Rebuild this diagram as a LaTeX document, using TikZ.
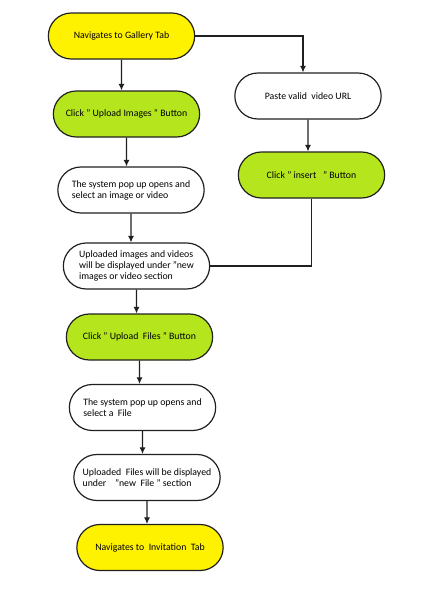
\documentclass[tikz,border=0pt]{standalone}
\usepackage{fontspec}
\setmainfont{Carlito}
\usetikzlibrary{shapes.misc,arrows.meta}
\definecolor{tabyellow}{HTML}{FFF200}
\definecolor{btngreen}{HTML}{B5E61D}
\definecolor{lineclr}{HTML}{202020}

\begin{document}
\begin{tikzpicture}
[x=1pt,y=-1pt,
every node/.style={rounded rectangle,draw=lineclr,line width=1.2pt,minimum width=153pt,minimum height=46pt,font=\fontsize{9.8}{11}\selectfont,align=left,text=black},
tab/.style={fill=tabyellow},
btn/.style={fill=btngreen},
flow/.style={draw=lineclr,line width=1.1pt,-{Latex[length=6.5pt,width=6pt]}}]
\useasboundingbox (0,0) rectangle (431,600);
\node[tab] (n1) at (121.5,36) {Navigates to Gallery Tab};
\node[btn] (n2) at (126.5,114) {Click " Upload Images " Button};
\node (n3) at (131,190) {The system pop up opens and\\select an image or video};
\node (n4) at (136.5,266) {Uploaded images and videos\\will be displayed under "new\\images or video section};
\node[btn] (n5) at (139.5,337) {Click " Upload~ Files " Button};
\node (n6) at (142.5,407.5) {The system pop up opens and\\select a~ File};
\node (n7) at (147,477.5) {Uploaded~ Files will be displayed\\under~~~ "new~ File " section};
\node[tab] (n8) at (150,547.5) {Navigates to~ Invitation~ Tab};
\node (p1) at (308,96) {Paste valid~ video URL};
\node[btn] (p2) at (311.5,175) {Click " insert~~ " Button};
\coordinate (pin) at (303,0);
\foreach \from/\to in {n1/n2,n2/n3,n3/n4,n4/n5,n5/n6,n6/n7,n7/n8,p1/p2}
\draw[flow] (\from) -- (\from |- \to.north);
\draw[flow] (n1.east) -| (pin |- p1.north);
\draw[draw=lineclr,line width=1.1pt] (p2.south) |- (n4.east);
\end{tikzpicture}
\end{document}
